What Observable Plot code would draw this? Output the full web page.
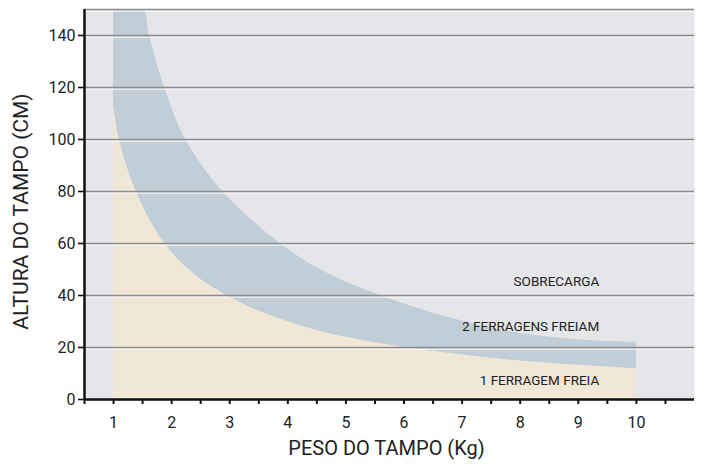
<!DOCTYPE html>
<html><head><meta charset="utf-8">
<script src="https://cdn.jsdelivr.net/npm/d3@7"></script>
<script src="https://cdn.jsdelivr.net/npm/@observablehq/plot@0.6"></script>
<style>
body{margin:0;background:#fff;}
#chart svg{display:block;font-family:Roboto,"DejaVu Sans",sans-serif;}
</style></head>
<body><div id="chart"></div>
<script>
// Peso do tampo (Kg) vs altura do tampo (cm)
const lowerX = [1, 1.1, 1.39, 1.88, 2.4, 2.95, 3.5, 4.2, 5.02, 6.17, 7.9, 10];
const lowerY = [113, 100, 80, 60, 48, 40, 34, 28.5, 23.8, 19.5, 15, 11.8];
const upperX = [1, 1.51, 1.62, 1.88, 2.24, 2.88, 3.87, 4.6, 5.59, 6.74, 7.9, 9.05, 10];
const upperY = [150, 150, 140, 120, 100, 80, 60, 49.5, 40, 31.7, 25.8, 22.9, 22];
const yTicks = [0, 20, 40, 60, 80, 100, 120, 140];
const gridY = [20, 40, 60, 80, 100, 120, 140, 150];
const xTicks = d3.range(0.5, 11, 0.5);
const labels = ["SOBRECARGA", "2 FERRAGENS FREIAM", "1 FERRAGEM FREIA"];
const labelX = [9.36, 9.36, 9.36];
const labelY = [45.4, 28, 7.3];

const lower = lowerX.map((x, i) => ({x, y: lowerY[i]}));
const upper = upperX.map((x, i) => ({x, y: upperY[i]}));
const labelData = labels.map((t, i) => ({t, x: labelX[i], y: labelY[i]}));

const chart = Plot.plot({
  width: 703, height: 464,
  marginLeft: 84, marginRight: 9, marginTop: 9, marginBottom: 65,
  x: {domain: [0.5, 11]},
  y: {domain: [0, 150]},
  style: {fontSize: "16px", color: "#222"},
  marks: [
    Plot.frame({fill: "#e5e6e9", stroke: null}),
    Plot.areaY(upper, {x: "x", y: "y", fill: "#c1ced8", curve: "catmull-rom", clip: true}),
    Plot.areaY(lower, {x: "x", y: "y", fill: "#f1e7d7", curve: "catmull-rom"}),
    Plot.ruleY(gridY, {stroke: "#fff", strokeWidth: 1.2, dy: 1.6, strokeOpacity: 0.8}),
    Plot.ruleY(gridY, {stroke: "#8a8b8d", strokeWidth: 1.6}),
    Plot.text(labelData, {x: "x", y: "y", text: "t", textAnchor: "end", fontSize: 13.5, fill: "#222", fontFamily: "Roboto"}),
    Plot.axisY({ticks: yTicks, tickSize: 6, tickPadding: 3, label: null, fontSize: 16, stroke: "#111", strokeWidth: 1.6}),
    Plot.axisX({ticks: xTicks, tickSize: 5, tickPadding: 12, label: null, fontSize: 16,
      tickFormat: d => Number.isInteger(d) ? String(d) : "", stroke: "#111", strokeWidth: 2}),
    Plot.ruleY([0], {stroke: "#111", strokeWidth: 2.5}),
    Plot.ruleX([0.5], {y1: 0, y2: 150, stroke: "#111", strokeWidth: 2.5}),
    Plot.text(["PESO DO TAMPO (Kg)"], {frameAnchor: "bottom", dy: 55, dx: -3, fontSize: 20, fill: "#222"}),
    Plot.text(["ALTURA DO TAMPO (CM)"], {frameAnchor: "left", textAnchor: "middle", dx: -63, dy: 7, rotate: -90, fontSize: 21, fill: "#222"})
  ]
});
document.getElementById("chart").append(chart);
</script></body></html>
